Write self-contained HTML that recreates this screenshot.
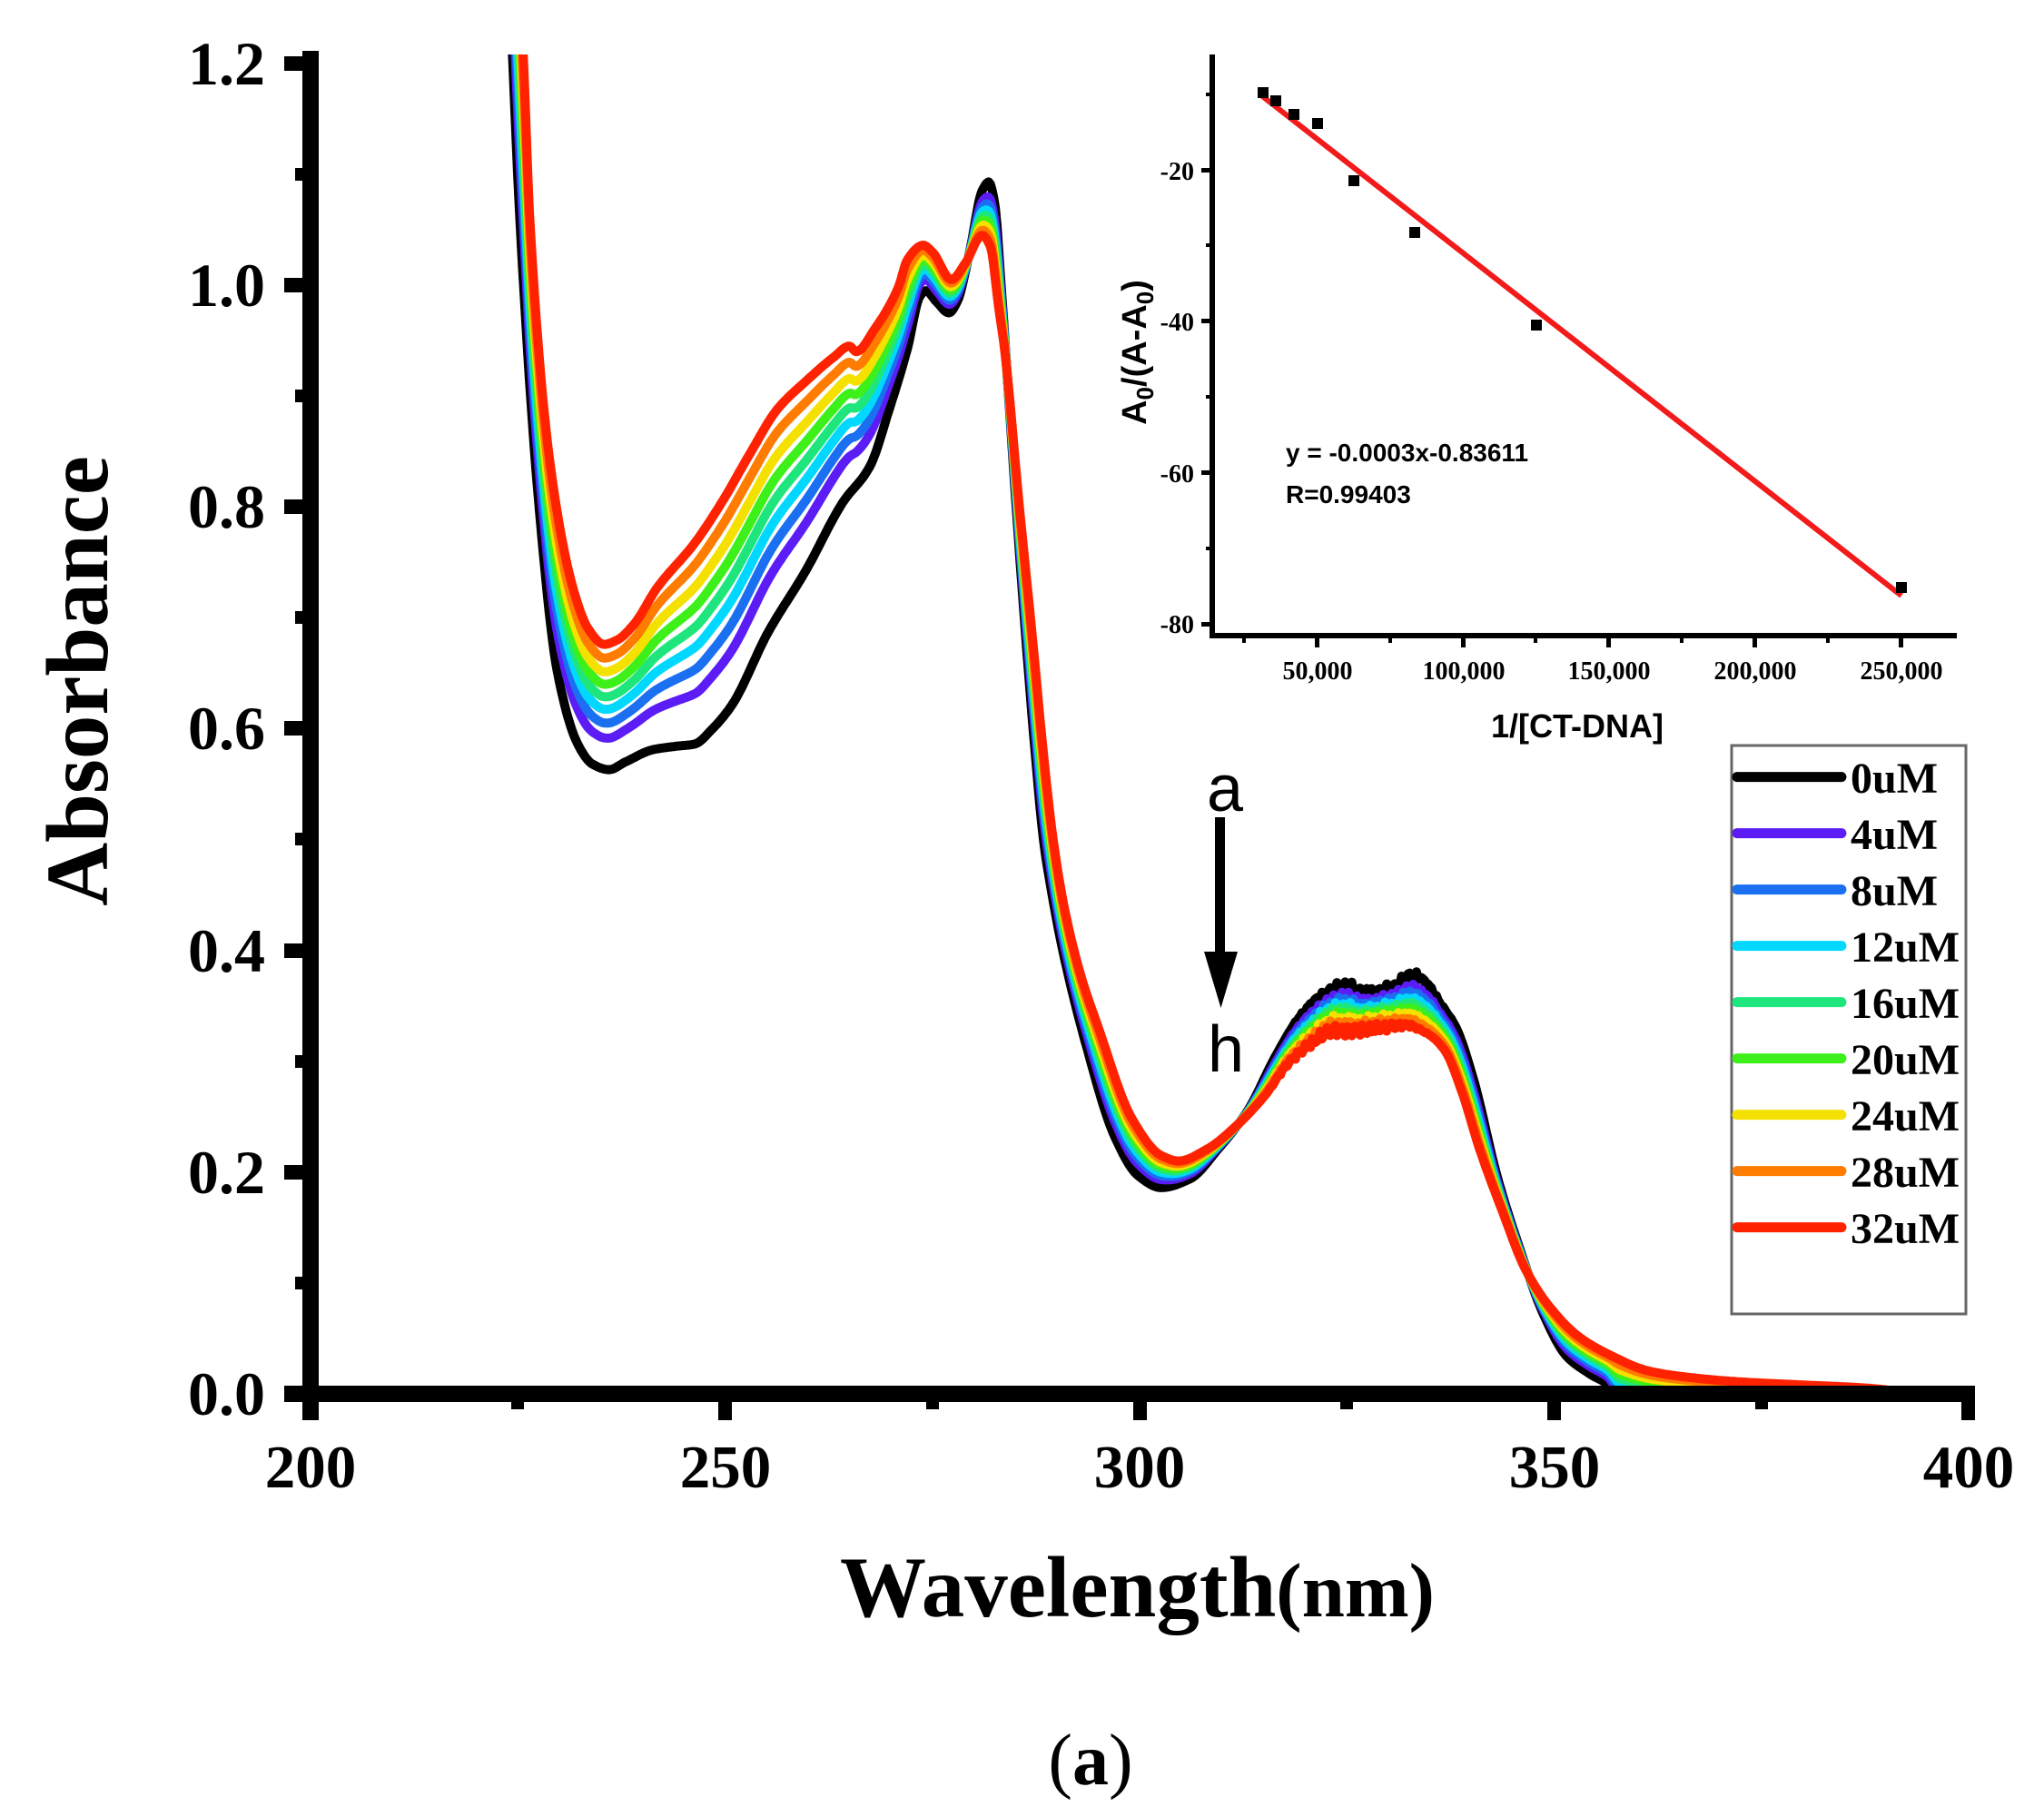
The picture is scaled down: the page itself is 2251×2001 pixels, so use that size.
<!DOCTYPE html>
<html><head><meta charset="utf-8"><style>
html,body{margin:0;padding:0;background:#fff;}
svg{display:block;}
</style></head><body>
<svg width="2251" height="2001" viewBox="0 0 2251 2001" xmlns="http://www.w3.org/2000/svg">
<rect width="2251" height="2001" fill="#fff"/>
<defs><clipPath id="clip"><rect x="351" y="60" width="1820" height="1478"/></clipPath></defs>

<g id="curves" clip-path="url(#clip)" fill="none" stroke-width="10" stroke-linejoin="round" stroke-linecap="round"></g>

<g fill="#000">
<rect x="333" y="56" width="18" height="1508"/>
<rect x="313" y="1526" width="1862" height="18"/>
<rect x="313" y="62" width="22" height="16"/>
<rect x="313" y="306" width="22" height="16"/>
<rect x="313" y="550" width="22" height="16"/>
<rect x="313" y="794" width="22" height="16"/>
<rect x="313" y="1039" width="22" height="16"/>
<rect x="313" y="1283" width="22" height="16"/>
<rect x="325" y="185" width="10" height="14"/>
<rect x="325" y="429" width="10" height="14"/>
<rect x="325" y="673" width="10" height="14"/>
<rect x="325" y="917" width="10" height="14"/>
<rect x="325" y="1162" width="10" height="14"/>
<rect x="325" y="1406" width="10" height="14"/>
<rect x="791" y="1540" width="15" height="24"/>
<rect x="1248" y="1540" width="15" height="24"/>
<rect x="1704" y="1540" width="15" height="24"/>
<rect x="2160" y="1540" width="15" height="24"/>
<rect x="563" y="1540" width="14" height="12"/>
<rect x="1020" y="1540" width="14" height="12"/>
<rect x="1476" y="1540" width="14" height="12"/>
<rect x="1933" y="1540" width="14" height="12"/>
</g>

<g font-family="'Liberation Serif', serif" font-weight="bold" font-size="68" fill="#000" text-anchor="end">
<text x="292" y="93">1.2</text>
<text x="292" y="337">1.0</text>
<text x="292" y="581">0.8</text>
<text x="292" y="825">0.6</text>
<text x="292" y="1070">0.4</text>
<text x="292" y="1314">0.2</text>
<text x="292" y="1558">0.0</text>
</g>
<g font-family="'Liberation Serif', serif" font-weight="bold" font-size="67" fill="#000" text-anchor="middle">
<text x="342" y="1638">200</text>
<text x="799" y="1638">250</text>
<text x="1255" y="1638">300</text>
<text x="1712" y="1638">350</text>
<text x="2168" y="1638">400</text>
</g>

<text transform="translate(118,750) rotate(-90)" text-anchor="middle" font-family="'Liberation Serif', serif" font-weight="bold" font-size="97" fill="#000">Absorbance</text>
<text x="925" y="1780" font-family="'Liberation Serif', serif" font-weight="bold" fill="#000"><tspan font-size="95">Wavelength</tspan><tspan font-size="85">(nm)</tspan></text>
<text x="1201" y="1965" text-anchor="middle" font-family="'Liberation Serif', serif" font-size="80" fill="#000">(<tspan font-weight="bold">a</tspan>)</text>

<text x="1349" y="893" text-anchor="middle" font-family="'Liberation Sans', sans-serif" font-size="72" fill="#000">a</text>
<rect x="1338" y="900" width="11" height="152" fill="#000"/>
<polygon points="1326,1048 1363,1048 1344.5,1110" fill="#000"/>
<text x="1350" y="1180" text-anchor="middle" font-family="'Liberation Sans', sans-serif" font-size="72" fill="#000">h</text>

<rect x="1907" y="821" width="258" height="626" fill="#fff" stroke="#666" stroke-width="3"/>
<g stroke-width="11" stroke-linecap="round">
<line x1="1913" y1="855.6" x2="2028" y2="855.6" stroke="#000"/>
<line x1="1913" y1="917.6" x2="2028" y2="917.6" stroke="#5b1cf5"/>
<line x1="1913" y1="979.6" x2="2028" y2="979.6" stroke="#1a70f0"/>
<line x1="1913" y1="1041.6" x2="2028" y2="1041.6" stroke="#00d8ff"/>
<line x1="1913" y1="1103.6" x2="2028" y2="1103.6" stroke="#1ee67c"/>
<line x1="1913" y1="1165.6" x2="2028" y2="1165.6" stroke="#3ef01a"/>
<line x1="1913" y1="1227.6" x2="2028" y2="1227.6" stroke="#f5e100"/>
<line x1="1913" y1="1289.6" x2="2028" y2="1289.6" stroke="#ff7c00"/>
<line x1="1913" y1="1351.6" x2="2028" y2="1351.6" stroke="#ff2200"/>
</g>
<g font-family="'Liberation Serif', serif" font-weight="bold" font-size="48" fill="#000">
<text x="2038" y="873">0uM</text>
<text x="2038" y="935">4uM</text>
<text x="2038" y="997">8uM</text>
<text x="2038" y="1059">12uM</text>
<text x="2038" y="1121">16uM</text>
<text x="2038" y="1183">20uM</text>
<text x="2038" y="1245">24uM</text>
<text x="2038" y="1307">28uM</text>
<text x="2038" y="1369">32uM</text>
</g>

<g fill="#000">
<rect x="1332" y="60" width="6" height="643"/>
<rect x="1332" y="697" width="823" height="6"/>
<rect x="1323" y="185" width="10" height="5"/>
<rect x="1323" y="351" width="10" height="5"/>
<rect x="1323" y="518" width="10" height="5"/>
<rect x="1323" y="685" width="10" height="5"/>
<rect x="1328" y="102" width="5" height="4"/>
<rect x="1328" y="268" width="5" height="4"/>
<rect x="1328" y="435" width="5" height="4"/>
<rect x="1328" y="602" width="5" height="4"/>
<rect x="1448" y="702" width="5" height="11"/>
<rect x="1609" y="702" width="5" height="11"/>
<rect x="1769" y="702" width="5" height="11"/>
<rect x="1930" y="702" width="5" height="11"/>
<rect x="2091" y="702" width="5" height="11"/>
<rect x="1368" y="702" width="4" height="6"/>
<rect x="1529" y="702" width="4" height="6"/>
<rect x="1689" y="702" width="4" height="6"/>
<rect x="1850" y="702" width="4" height="6"/>
<rect x="2011" y="702" width="4" height="6"/>
</g>
<g font-family="'Liberation Serif', serif" font-weight="bold" font-size="28" fill="#000" text-anchor="end">
<text x="1315" y="198">-20</text>
<text x="1315" y="364">-40</text>
<text x="1315" y="531">-60</text>
<text x="1315" y="697">-80</text>
</g>
<g font-family="'Liberation Serif', serif" font-weight="bold" font-size="28" fill="#000" text-anchor="middle">
<text x="1451" y="748">50,000</text>
<text x="1612" y="748">100,000</text>
<text x="1772" y="748">150,000</text>
<text x="1933" y="748">200,000</text>
<text x="2094" y="748">250,000</text>
</g>
<text x="1737" y="812" text-anchor="middle" font-family="'Liberation Sans', sans-serif" font-weight="bold" font-size="36" fill="#000">1/[CT-DNA]</text>
<text transform="translate(1262,388) rotate(-90)" text-anchor="middle" font-family="'Liberation Sans', sans-serif" font-weight="bold" font-size="38" fill="#000">A<tspan font-size="26" dy="8">0</tspan><tspan dy="-8">/(A-A</tspan><tspan font-size="26" dy="8">0</tspan><tspan dy="-8">)</tspan></text>
<g font-family="'Liberation Sans', sans-serif" font-weight="bold" font-size="28" fill="#000">
<text x="1416" y="508">y = -0.0003x-0.83611</text>
<text x="1416" y="554">R=0.99403</text>
</g>
<line x1="1389" y1="105" x2="2094" y2="656" stroke="#f21a1a" stroke-width="6"/>
<g fill="#000">
<rect x="1385" y="96" width="12" height="12"/>
<rect x="1399" y="105" width="12" height="12"/>
<rect x="1419" y="120" width="12" height="12"/>
<rect x="1445" y="130" width="12" height="12"/>
<rect x="1485" y="193" width="12" height="12"/>
<rect x="1552" y="250" width="12" height="12"/>
<rect x="1686" y="352" width="12" height="12"/>
<rect x="2088" y="641" width="12" height="12"/>
</g>
</svg>
<script>
(function(){
var B=[[223.0,1.45],[224.4,1.2],[225.3,1.052],[227.6,0.797],[229.8,0.650],[232.3,0.585],[234,0.568],[236.0,0.563],[238,0.570],[241.3,0.581],[244,0.584],[246.3,0.586],[248.5,0.600],[250.8,0.621],[255.2,0.687],[259.7,0.742],[264.2,0.804],[267.5,0.837],[269.8,0.888],[272.0,0.943],[273.5,0.99],[274.2,0.995],[275.5,0.985],[277,0.975],[278,0.985],[279.5,1.03],[281,1.085],[281.8,1.093],[282.5,1.075],[283.3,1.0],[284.2,0.9],[285.3,0.78],[286.5,0.66],[287.5,0.57],[288.4,0.50],[289.5,0.448],[290.7,0.401],[293.5,0.316],[297.0,0.232],[299.8,0.197],[302.6,0.186],[306.1,0.194],[309.5,0.221],[313.0,0.255],[316.5,0.306],[319.3,0.340],[322.1,0.360],[324.9,0.368],[326.5,0.363],[327.7,0.362],[330.5,0.366],[333.0,0.378],[335.0,0.367],[336.1,0.354],[338.2,0.330],[340.3,0.283],[343.1,0.197],[345.9,0.130],[348.7,0.072],[351.5,0.034],[354.3,0.018],[356.5,0.008],[358,-0.01],[400,-0.01]];
var R=[[224.0,1.5],[225.7,1.2],[226.5,1.052],[229.0,0.833],[231.8,0.723],[233.5,0.69],[235.4,0.676],[237,0.68],[239.0,0.694],[241.8,0.727],[246.3,0.767],[249.6,0.804],[253.0,0.848],[256.3,0.888],[259.7,0.913],[263.1,0.935],[265.0,0.945],[265.8,0.94],[268.1,0.961],[270.9,0.998],[272,1.023],[273.9,1.036],[275,1.03],[277.3,1.005],[279,1.02],[281,1.045],[282,1.035],[283,0.98],[283.7,0.943],[285.5,0.80],[287.1,0.68],[288.3,0.585],[289.4,0.51],[290.5,0.455],[291.6,0.415],[293,0.375],[294.9,0.333],[299.1,0.248],[302.6,0.215],[304.7,0.210],[308.2,0.221],[311.7,0.242],[315.1,0.269],[318.0,0.299],[320.7,0.316],[323.5,0.328],[326.3,0.328],[329.2,0.330],[331.9,0.333],[334.7,0.325],[336.8,0.310],[338.9,0.272],[341.0,0.221],[343.8,0.164],[346.5,0.113],[349.4,0.079],[352.9,0.052],[357.0,0.034],[361.2,0.021],[365,0.016],[372,0.011],[380,0.008],[388,0.005],[393,0.0],[396,-0.01]];
function pchip(a){
  var n=a.length,h=[],d=[],m=[];
  for(var i=0;i<n-1;i++){h[i]=a[i+1][0]-a[i][0];d[i]=(a[i+1][1]-a[i][1])/h[i];}
  m[0]=d[0];m[n-1]=d[n-2];
  for(var k=1;k<n-1;k++){
    if(d[k-1]*d[k]<=0){m[k]=0;}
    else{var w1=2*h[k]+h[k-1],w2=h[k]+2*h[k-1];m[k]=(w1+w2)/(w1/d[k-1]+w2/d[k]);}
  }
  return function(x){
    if(x<=a[0][0])return a[0][1];
    if(x>=a[n-1][0])return a[n-1][1];
    var i=0;while(i<n-2&&x>a[i+1][0])i++;
    var t=(x-a[i][0])/h[i],t2=t*t,t3=t2*t;
    return (2*t3-3*t2+1)*a[i][1]+(t3-2*t2+t)*h[i]*m[i]+(-2*t3+3*t2)*a[i+1][1]+(t3-t2)*h[i]*m[i+1];
  };
}
var fb=pchip(B),fr=pchip(R);
function noise(l){
  if(l<318||l>338)return 0;
  var w=Math.sin((l-318)/20*Math.PI);
  return w*(0.0035*Math.sin(l*7.3)+0.0025*Math.sin(l*13.7+1.3));
}
var cols=['#000000','#5b1cf5','#1a70f0','#00d8ff','#1ee67c','#3ef01a','#f5e100','#ff7c00','#ff2200'];
var f=[0,0.25,0.37,0.48,0.58,0.68,0.78,0.89,1];
var g=document.getElementById('curves');
var NS='http://www.w3.org/2000/svg';
for(var k=0;k<9;k++){
  var d='';
  for(var l=223.0;l<=396;l+=0.2){
    var b=fb(l),r=fr(l);
    var a=b+f[k]*(r-b)+noise(l+k*0.37);
    var x=342+9.13*(l-200),y=1535-1221*a;
    d+=(d?'L':'M')+x.toFixed(1)+' '+y.toFixed(1);
  }
  var p=document.createElementNS(NS,'path');p.setAttribute('d',d);p.setAttribute('stroke',cols[k]);g.appendChild(p);
}
})();
</script>
</body></html>
